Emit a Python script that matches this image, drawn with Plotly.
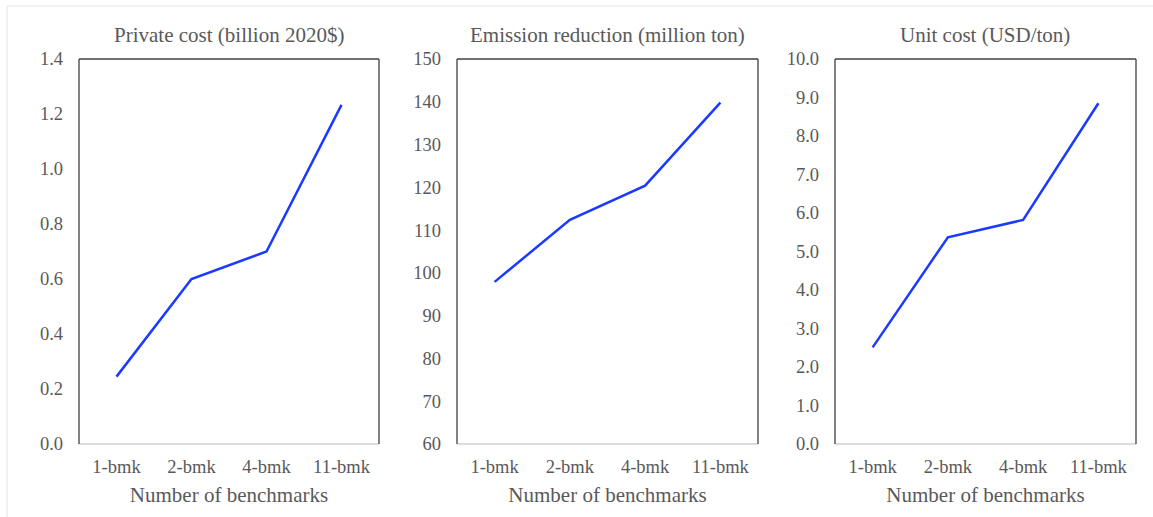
import plotly.graph_objects as go

categories = ["1-bmk", "2-bmk", "4-bmk", "11-bmk"]
private_cost = [0.245, 0.60, 0.70, 1.233]
emission_reduction = [97.9, 112.4, 120.4, 139.8]
unit_cost = [2.51, 5.37, 5.82, 8.85]

titles = ["Private cost (billion 2020$)", "Emission reduction (million ton)", "Unit cost (USD/ton)"]
x_title = "Number of benchmarks"

y_ranges = [[0, 1.4], [60, 150], [0, 10]]
y_dticks = [0.2, 10, 1.0]
y_formats = [".1f", "d", ".1f"]

W, H = 1153, 517
plot_px = [(79, 379), (457, 758), (835, 1136)]
top_px, bot_px = 59, 444

FONT = "Liberation Serif, Times New Roman, serif"
TXT = "#595959"
LINE = "#1A3AFF"

series = [private_cost, emission_reduction, unit_cost]

fig = go.Figure()
layout = dict(
    width=W, height=H, autosize=False,
    margin=dict(l=0, r=0, t=0, b=0, pad=0, autoexpand=False),
    paper_bgcolor="white", plot_bgcolor="white",
    showlegend=False,
    font=dict(family=FONT, color=TXT),
)
shapes = []
annotations = []
ydom = [1 - bot_px / H, 1 - top_px / H]
for i, (vals, (x0, x1)) in enumerate(zip(series, plot_px)):
    sfx = "" if i == 0 else str(i + 1)
    xa, ya = "x" + sfx, "y" + sfx
    fig.add_trace(go.Scatter(x=categories, y=vals, mode="lines",
                             line=dict(color=LINE, width=2.5),
                             xaxis=xa, yaxis=ya, hoverinfo="x+y"))
    layout["xaxis" + sfx] = dict(
        domain=[x0 / W, x1 / W], anchor=ya, type="category",
        range=[-0.5, 3.5], showgrid=False, zeroline=False, automargin=False,
        showline=False, ticks="", ticklabelstandoff=9,
        tickfont=dict(size=18.5, color=TXT, family=FONT),
        title=dict(text=x_title, font=dict(size=21, color=TXT, family=FONT), standoff=11),
        fixedrange=True,
    )
    layout["yaxis" + sfx] = dict(
        domain=ydom, anchor=xa, range=y_ranges[i], dtick=y_dticks[i],
        tickformat=y_formats[i], showgrid=False, zeroline=False, automargin=False,
        showline=False, ticks="", ticklabelstandoff=15,
        tickfont=dict(size=18.5, color=TXT, family=FONT), fixedrange=True,
    )
    dref_x = xa + " domain"
    dref_y = ya + " domain"
    shapes.append(dict(type="line", xref=dref_x, yref=dref_y, x0=0, x1=1, y0=0, y1=0,
                       line=dict(color="#D0D0D0", width=1.3)))
    for (a0, a1, b0, b1) in [(0, 0, 0, 1), (0, 1, 1, 1), (1, 1, 0, 1)]:
        shapes.append(dict(type="line", xref=dref_x, yref=dref_y, x0=a0, x1=a1, y0=b0, y1=b1,
                           line=dict(color="#404040", width=1.3)))
    annotations.append(dict(text=titles[i], xref=dref_x, yref="paper",
                            x=0.5, y=1 - 35 / H, xanchor="center", yanchor="middle",
                            showarrow=False, font=dict(size=21, color=TXT, family=FONT)))

shapes.append(dict(type="line", xref="paper", yref="paper", x0=7 / W, x1=1, y0=1 - 6 / H, y1=1 - 6 / H,
                   line=dict(color="#E4E4E4", width=1)))
shapes.append(dict(type="line", xref="paper", yref="paper", x0=7 / W, x1=7 / W, y0=0, y1=1 - 6 / H,
                   line=dict(color="#E4E4E4", width=1)))

layout["shapes"] = shapes
layout["annotations"] = annotations
fig.update_layout(**layout)
fig.write_html("out.html", config={"displayModeBar": False, "responsive": False},
               post_script="document.body.style.margin='0';document.body.style.overflow='hidden';")
